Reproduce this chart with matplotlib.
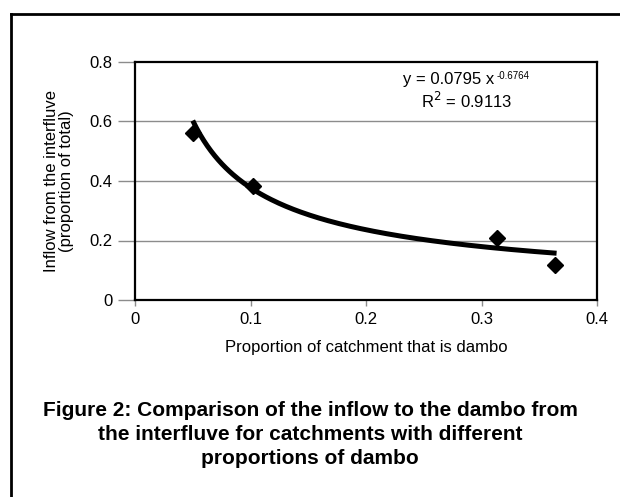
import numpy as np
import matplotlib
matplotlib.use("Agg")
import matplotlib.pyplot as plt
from matplotlib.lines import Line2D

# ---- data ----
dambo_share = [0.050, 0.102, 0.313, 0.364]
interfluve_inflow = [0.562, 0.383, 0.208, 0.116]
trend_coef = 0.0795
trend_exp = -0.6764
trend_r2 = 0.9113
trend_x_range = [0.05, 0.365]
x_ticks = [0, 0.1, 0.2, 0.3, 0.4]
x_tick_labels = ["0", "0.1", "0.2", "0.3", "0.4"]
y_ticks = [0, 0.2, 0.4, 0.6, 0.8]
y_tick_labels = ["0", "0.2", "0.4", "0.6", "0.8"]
title_lines = ["Figure 2: Comparison of the inflow to the dambo from",
               "the interfluve for catchments with different",
               "proportions of dambo"]

plt.rcParams['font.family'] = ['Liberation Sans', 'DejaVu Sans']

W, H = 620, 497
fig = plt.figure(figsize=(W / 100, H / 100), dpi=100)

def px(x0, y0, x1, y1):
    return [x0 / W, 1 - y1 / H, (x1 - x0) / W, (y1 - y0) / H]

ax = fig.add_axes(px(135, 62, 597, 300))
ax.set_xlim(0, 0.4)
ax.set_ylim(0, 0.8)

for yv in y_ticks[1:-1]:
    ax.axhline(yv, color='#8c8c8c', lw=1.0, zorder=1)

xs = np.linspace(trend_x_range[0], trend_x_range[1], 200)
ax.plot(xs, trend_coef * xs ** trend_exp, color='black', lw=3.6,
        solid_capstyle='butt', zorder=3)
ax.plot(dambo_share, interfluve_inflow, linestyle='none', marker='D',
        markersize=8.5, color='black', zorder=4)

ax.set_xticks(x_ticks)
ax.set_xticklabels(x_tick_labels)
ax.set_yticks(y_ticks)
ax.set_yticklabels(y_tick_labels)
ax.tick_params(axis='y', direction='out', length=12, width=1, color='#8c8c8c',
               labelsize=12, pad=4)
ax.tick_params(axis='x', direction='out', length=4, width=1, color='#8c8c8c',
               labelsize=12, pad=5)
for s in ax.spines.values():
    s.set_linewidth(1.6)
    s.set_color('black')

ax.set_xlabel("Proportion of catchment that is dambo", fontsize=12, labelpad=9)
ax.set_ylabel("Inflow from the interfluve\n(proportion of total)", fontsize=12,
              labelpad=11, linespacing=1.05)

ax.text(0.311, 0.740, "y = 0.0795 x", fontsize=12, ha='right', va='center')
ax.text(0.313, 0.752, "-" + f"{-trend_exp:.4f}", fontsize=7, ha='left',
        va='center')
ax.text(0.287, 0.669, "R$^2$ = " + f"{trend_r2:.4f}", fontsize=12, ha='center',
        va='center')

for i, line in enumerate(title_lines):
    fig.text(310 / W, 1 - (411 + 24 * i) / H, line, ha='center', va='center',
             fontsize=15, fontweight='bold')

# outer frame
fig.add_artist(Line2D([11 / W, 1.0], [1 - 14 / H, 1 - 14 / H], color='black',
                      lw=2, transform=fig.transFigure))
fig.add_artist(Line2D([11 / W, 11 / W], [1 - 14 / H, 0.0], color='black',
                      lw=2, transform=fig.transFigure))

fig.savefig("out.png", dpi=100)
